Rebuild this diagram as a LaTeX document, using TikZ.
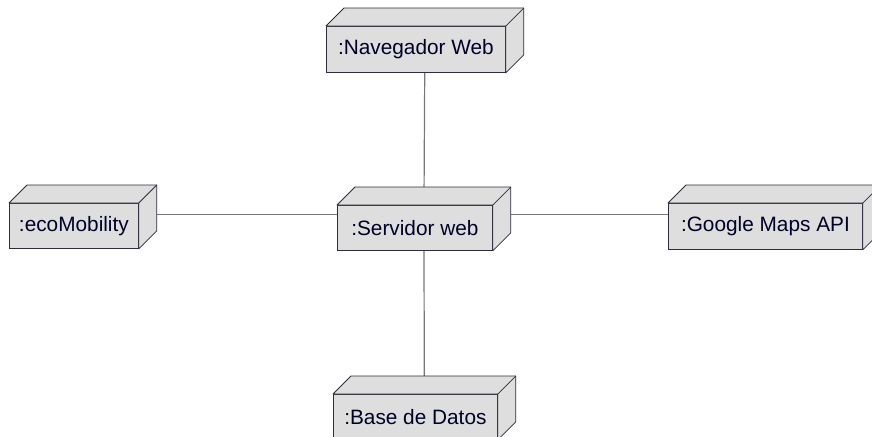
\documentclass[tikz,border=0pt]{standalone}
\usepackage{fontspec}
\setmainfont{Liberation Sans}
\usetikzlibrary{
    backgrounds,
    positioning,
    calc
}

\definecolor{boxgray}{RGB}{222,222,222}
\definecolor{boxline}{RGB}{45,45,60}
\definecolor{linkgray}{RGB}{120,120,120}

\begin{document}
\begin{tikzpicture}[x=0.5pt, y=-0.5pt,
        devnode/.style={draw=boxline, fill=boxgray, anchor=north west, inner sep=0pt,
            font=\fontsize{10.4}{12}\selectfont, text=black!85!blue},
        face/.style={draw=boxline, fill=boxgray, line join=round},
        link/.style={draw=linkgray, line width=0.6pt}]
        \useasboundingbox (0,0) rectangle (872,436);

        % Nodes (front faces)
        \node[devnode, minimum width=89.5pt, minimum height=23pt] (nav) at (326,26) {:Navegador Web};
        \node[devnode, minimum width=64.5pt, minimum height=22.5pt] (eco) at (9,203) {:ecoMobility};
        \node[devnode, minimum width=77.5pt, minimum height=22.5pt] (srv) at (337,205) {:Servidor web};
        \node[devnode, minimum width=97pt, minimum height=23pt] (gmap) at (668,203) {:Google Maps API};
        \node[devnode, minimum width=82pt, minimum height=22.5pt] (bd) at (333,394) {:Base de Datos};

        % Top and side faces
        \foreach \n in {nav,eco,srv,gmap,bd}{
            \draw[face] (\n.north west) -- ++(18,-18) -- ($(\n.north east)+(18,-18)$)
                -- ($(\n.south east)+(18,-18)$) -- (\n.south east) -- (\n.north east) -- cycle;
            \draw[boxline] (\n.north east) -- ++(18,-18);
        }

        % Connectors
        \begin{scope}[on background layer]
            \draw[link] ([shift={(9,-9)}]nav.center) -- ([shift={(9,-9)}]srv.center);
            \draw[link] ([shift={(9,-9)}]srv.center) -- ([shift={(9,-9)}]bd.center);
            \draw[link] ([shift={(9,-11.5)}]eco.center) -- ([shift={(9,-13.5)}]srv.center);
            \draw[link] ([shift={(9,-13.5)}]srv.center) -- ([shift={(9,-12)}]gmap.center);
        \end{scope}
    \end{tikzpicture}
\end{document}
